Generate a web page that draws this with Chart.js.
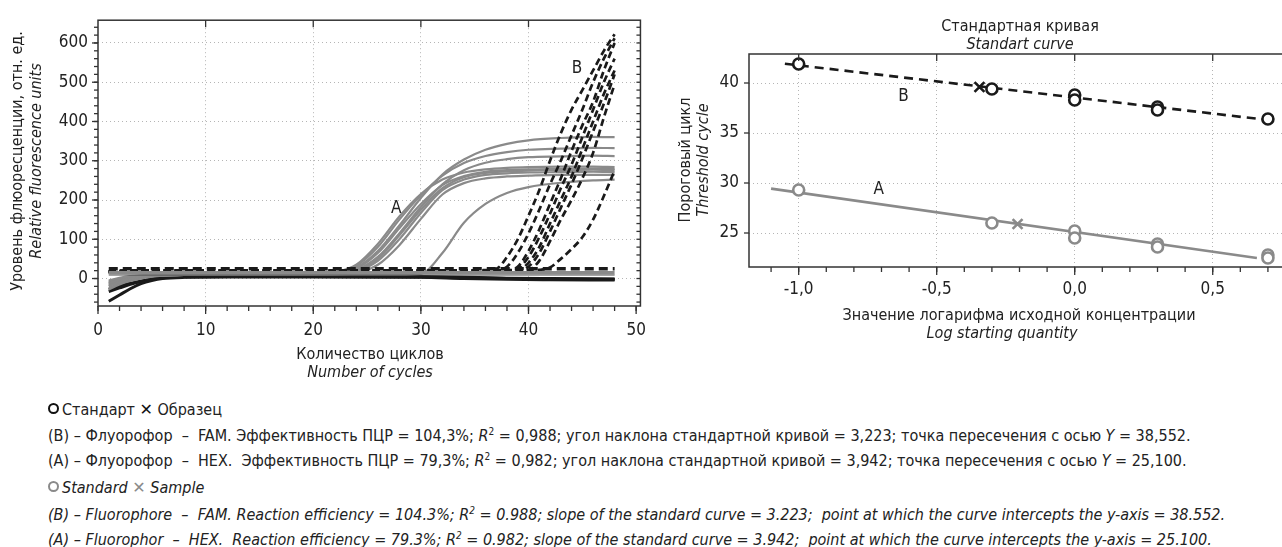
<!DOCTYPE html>
<html>
<head>
<meta charset="utf-8">
<script src="https://cdn.jsdelivr.net/npm/chart.js@4"></script>
<style>
	body {
		margin: 0;
		width: 1282px;
		height: 547px;
		overflow: hidden;
		background: #ffffff;
		position: relative;
		font-family: "Liberation Sans Narrow", "DejaVu Sans Condensed", sans-serif;
		color: #222222;
	}
	#ampBox { position: absolute; left: 0; top: 0; width: 660px; height: 390px; }
	#stdBox { position: absolute; left: 660px; top: 0; width: 640px; height: 360px; }
	.note { position: absolute; left: 48px; font-size: 16px; line-height: 20px; white-space: pre; }
	.note sup { font-size: 10px; line-height: 0; }
	.it { font-style: italic; }
	.ring { display: inline-block; width: 7px; height: 7px; border: 2.5px solid #111; border-radius: 50%; margin-right: 3px; vertical-align: 1px; }
	.ring.grey { border-color: #8a8a8a; }
	.cross { font-family: "DejaVu Sans", sans-serif; font-weight: bold; font-size: 16px; color: #111; }
	.cross.grey { color: #8a8a8a; }
</style>
</head>
<body>
<div id="ampBox"><canvas id="ampChart"></canvas></div>
<div id="stdBox"><canvas id="stdChart"></canvas></div>

<div class="note" style="top:400px"><span class="ring"></span>Стандарт <span class="cross">✕</span> Образец</div>
<div class="note" style="top:426px">(B) – Флуорофор  –  FAM. Эффективность ПЦР = 104,3%; <i>R</i><sup>2</sup> = 0,988; угол наклона стандартной кривой = 3,223; точка пересечения с осью <i>Y</i> = 38,552.</div>
<div class="note" style="top:451px">(A) – Флуорофор  –  HEX.  Эффективность ПЦР = 79,3%; <i>R</i><sup>2</sup> = 0,982; угол наклона стандартной кривой = 3,942; точка пересечения с осью <i>Y</i> = 25,100.</div>
<div class="note it" style="top:478px"><span class="ring grey"></span>Standard <span class="cross grey">✕</span> Sample</div>
<div class="note it" style="top:505px">(B) – Fluorophore  –  FAM. Reaction efficiency = 104.3%; R<sup>2</sup> = 0.988; slope of the standard curve = 3.223;  point at which the curve intercepts the y-axis = 38.552.</div>
<div class="note it" style="top:530px">(A) – Fluorophor  –  HEX.  Reaction efficiency = 79.3%; R<sup>2</sup> = 0.982; slope of the standard curve = 3.942;  point at which the curve intercepts the y-axis = 25.100.</div>

<script>
"use strict";

// amplification curves, HEX (A), read at these cycles
var cyclesA = [1, 2, 3, 5, 8, 12, 16, 20, 22, 24, 26, 28, 30, 32, 34, 36, 38, 40, 43, 46, 48];
var hexCurves = [
	[-5, 2, 6, 9, 10, 10, 10, 11, 14, 28, 70, 135, 205, 265, 303, 328, 343, 352, 358, 361, 360],
	[-12, -2, 4, 8, 10, 10, 11, 11, 15, 32, 80, 150, 212, 262, 294, 312, 322, 328, 331, 333, 332],
	[-20, -8, 0, 7, 9, 10, 10, 10, 12, 22, 55, 115, 182, 240, 276, 295, 304, 309, 311, 313, 312],
	[-8, 0, 5, 9, 10, 11, 11, 11, 16, 35, 88, 158, 215, 252, 270, 278, 282, 284, 285, 285, 284],
	[-25, -12, -4, 6, 9, 10, 10, 10, 12, 25, 65, 128, 190, 238, 261, 272, 276, 278, 279, 280, 279],
	[-15, -5, 2, 8, 10, 10, 10, 10, 11, 18, 45, 100, 167, 225, 252, 264, 268, 270, 271, 272, 271],
	[-28, -15, -6, 5, 9, 10, 10, 10, 10, 14, 35, 85, 152, 214, 243, 255, 260, 262, 264, 264, 264],
	[-10, -1, 4, 8, 10, 10, 11, 11, 13, 20, 50, 110, 175, 230, 258, 269, 273, 275, 276, 277, 276],
	[-18, -6, 1, 7, 9, 10, 10, 10, 10, 10, 10, 10, 12, 65, 142, 190, 218, 233, 244, 250, 252]
];

// amplification curves, FAM (B)
var cyclesB = [1, 3, 5, 10, 20, 30, 35, 37, 38, 39, 40, 41, 42, 43, 44, 45, 46, 47, 48];
var famCurves = [
	[18, 20, 20, 20, 20, 20, 21, 25, 55, 100, 160, 225, 300, 370, 430, 480, 530, 580, 622],
	[18, 20, 20, 20, 20, 20, 20, 21, 30, 65, 115, 175, 240, 300, 365, 430, 500, 560, 612],
	[16, 19, 20, 20, 20, 20, 20, 20, 21, 30, 70, 125, 190, 255, 325, 390, 450, 530, 600],
	[17, 19, 20, 20, 20, 20, 20, 20, 20, 25, 55, 105, 165, 230, 290, 360, 430, 500, 560],
	[15, 18, 20, 20, 20, 20, 20, 20, 20, 21, 40, 80, 140, 200, 260, 330, 400, 470, 530],
	[16, 19, 20, 20, 20, 20, 20, 20, 20, 20, 30, 65, 120, 180, 240, 305, 375, 445, 520],
	[17, 19, 20, 20, 20, 20, 20, 20, 20, 20, 22, 45, 95, 150, 200, 255, 320, 410, 495],
	[18, 20, 20, 20, 20, 20, 20, 20, 20, 20, 20, 22, 28, 50, 75, 105, 150, 210, 275]
];

// flat black runs (no amplification)
var cyclesNeg = [1, 2, 3, 4, 5, 6, 8, 12, 20, 30, 34, 38, 42, 48];
var negCurves = [
	[-58, -42, -26, -13, -5, 0, 3, 4, 4, 3, 0, -2, -3, -4],
	[-33, -24, -15, -8, -2, 2, 4, 5, 5, 4, 2, 0, -1, -2],
	[-28, -20, -12, -6, -1, 3, 5, 6, 6, 5, 3, 1, 0, -1]
];

var thresholdRange = [1, 48];
var thresholdB = 25;
var thresholdA = 15;
var thresholdLow = 9;

// standard curve
var stdLogB = [-1, -0.3, 0, 0, 0.3, 0.3, 0.7];
var stdCtB = [41.9, 39.4, 38.8, 38.3, 37.6, 37.3, 36.4];
var stdLogA = [-1, -0.3, 0, 0, 0.3, 0.3, 0.7, 0.7];
var stdCtA = [29.3, 26.0, 25.2, 24.5, 23.9, 23.6, 22.8, 22.5];
var sampleLogB = [-0.345];
var sampleCtB = [39.6];
var sampleLogA = [-0.207];
var sampleCtA = [25.9];
var fitLogB = [-1.05, 0.7];
var fitCtB = [41.93, 36.3];
var fitLogA = [-1.1, 0.66];
var fitCtA = [29.44, 22.5];

var GREY = "#8a8a8a";
var INK = "#1a1a1a";
var FONT = "'Liberation Sans Narrow', 'DejaVu Sans Condensed', sans-serif";


function toPoints(xs, ys) {
	return xs.map(function (x, i) {
		return { x: x, y: ys[i] };
	});
}

function stepValues(from, to, step) {
	var out = [];
	for (var v = from; v <= to + step / 1000; v += step) {
		out.push(Math.round(v * 1000) / 1000);
	}
	return out;
}

// frame round the plot area plus tick marks on all four sides
function makeFramePlugin(marks) {
	return {
		id: "frame",
		afterDraw: function (chart) {
			var ctx = chart.ctx;
			var a = chart.chartArea;
			ctx.save();
			ctx.strokeStyle = "#333";
			ctx.lineWidth = 1.5;
			ctx.strokeRect(a.left, a.top, a.right - a.left, a.bottom - a.top);
			ctx.lineWidth = 1.3;
			marks.forEach(function (m) {
				var scale = m.side == "bottom" || m.side == "top" ? chart.scales.x : chart.scales.y;
				m.values.forEach(function (v) {
					var p = scale.getPixelForValue(v);
					ctx.beginPath();
					if (m.side == "bottom") { ctx.moveTo(p, a.bottom); ctx.lineTo(p, a.bottom + m.len); }
					if (m.side == "top") { ctx.moveTo(p, a.top); ctx.lineTo(p, a.top + m.len); }
					if (m.side == "left") { ctx.moveTo(a.left, p); ctx.lineTo(a.left - m.len, p); }
					if (m.side == "right") { ctx.moveTo(a.right, p); ctx.lineTo(a.right - m.len, p); }
					ctx.stroke();
				});
			});
			ctx.restore();
		}
	};
}

function makeTextPlugin(items) {
	return {
		id: "texts",
		afterDraw: function (chart) {
			var ctx = chart.ctx;
			items.forEach(function (t) {
				var x = t.x;
				var y = t.y;
				if (t.dataX !== undefined) {
					x = chart.scales.x.getPixelForValue(t.dataX);
					y = chart.scales.y.getPixelForValue(t.dataY);
				}
				ctx.save();
				ctx.translate(x, y);
				if (t.rotate) ctx.rotate(t.rotate);
				ctx.font = t.font;
				ctx.fillStyle = "#222";
				ctx.textAlign = "center";
				ctx.textBaseline = "middle";
				ctx.fillText(t.text, 0, 0);
				ctx.restore();
			});
		}
	};
}

function dottedGrid(majorTest) {
	return {
		color: function (c) { return majorTest(c.tick.value) ? "#b5b5b5" : "rgba(0,0,0,0)"; },
		lineWidth: 1,
		drawTicks: false
	};
}

function renderAmplification() {
	var datasets = [];

	datasets.push({
		data: toPoints(thresholdRange, [thresholdB, thresholdB]),
		borderColor: INK, borderWidth: 3.5, borderDash: [9, 5], order: 1
	});
	datasets.push({
		data: toPoints(thresholdRange, [thresholdA, thresholdA]),
		borderColor: GREY, borderWidth: 3.5, order: 2
	});
	datasets.push({
		data: toPoints(thresholdRange, [thresholdLow, thresholdLow]),
		borderColor: "#444", borderWidth: 1, order: 2
	});

	famCurves.forEach(function (vals) {
		datasets.push({
			data: toPoints(cyclesB, vals),
			borderColor: INK, borderWidth: 2.7, borderDash: [7, 4], order: 3
		});
	});
	hexCurves.forEach(function (vals) {
		datasets.push({
			data: toPoints(cyclesA, vals),
			borderColor: GREY, borderWidth: 2.2, order: 4
		});
	});
	negCurves.forEach(function (vals) {
		datasets.push({
			data: toPoints(cyclesNeg, vals),
			borderColor: INK, borderWidth: 3, order: 5
		});
	});

	var tickFont = { family: FONT, size: 17 };

	var config = {
		type: "line",
		data: { datasets: datasets },
		options: {
			responsive: true,
			maintainAspectRatio: false,
			animation: false,
			layout: { padding: { top: 16, right: 18, left: 0, bottom: 0 } },
			elements: {
				point: { radius: 0 },
				line: { cubicInterpolationMode: "monotone", fill: false }
			},
			plugins: { legend: { display: false }, tooltip: { enabled: false } },
			scales: {
				x: {
					type: "linear", min: 0, max: 50.4,
					ticks: { stepSize: 10, includeBounds: false, font: tickFont, color: "#222", padding: 14, maxRotation: 0 },
					grid: dottedGrid(function (v) { return v > 0 && v < 50; }),
					border: { display: false, dash: [1, 3] },
					afterFit: function (s) { s.height = 84; }
				},
				y: {
					min: -70, max: 658,
					ticks: { stepSize: 100, includeBounds: false, font: tickFont, color: "#222", padding: 10 },
					grid: dottedGrid(function (v) { return true; }),
					border: { display: false, dash: [1, 3] },
					afterFit: function (s) { s.width = 98; }
				}
			}
		},
		plugins: [
			makeFramePlugin([
				{ side: "bottom", values: stepValues(0, 50, 2), len: 5 },
				{ side: "bottom", values: stepValues(0, 50, 10), len: 8 },
				{ side: "top", values: stepValues(10, 40, 10), len: 7 },
				{ side: "left", values: stepValues(-60, 640, 20), len: 4 },
				{ side: "left", values: stepValues(0, 600, 100), len: 6 },
				{ side: "right", values: stepValues(-60, 640, 20), len: 4 }
			]),
			makeTextPlugin([
				{ text: "Уровень флюоресценции, отн. ед.", x: 18, y: 161, rotate: -Math.PI / 2, font: "16px " + FONT },
				{ text: "Relative fluorescence units", x: 37, y: 161, rotate: -Math.PI / 2, font: "italic 16px " + FONT },
				{ text: "Количество циклов", x: 370, y: 355, font: "16px " + FONT },
				{ text: "Number of cycles", x: 370, y: 373, font: "italic 16px " + FONT },
				{ text: "A", dataX: 27.7, dataY: 178, font: "17px " + FONT },
				{ text: "B", dataX: 44.5, dataY: 535, font: "17px " + FONT }
			])
		]
	};

	return new Chart(document.getElementById("ampChart").getContext("2d"), config);
}

function renderStandardCurve() {
	var datasets = [
		{
			data: toPoints(sampleLogB, sampleCtB), showLine: false,
			pointStyle: "crossRot", pointRadius: 7, pointBorderWidth: 2.6,
			borderColor: INK, order: 1
		},
		{
			data: toPoints(sampleLogA, sampleCtA), showLine: false,
			pointStyle: "crossRot", pointRadius: 7, pointBorderWidth: 2.6,
			borderColor: GREY, order: 1
		},
		{
			data: toPoints(stdLogB, stdCtB), showLine: false,
			pointStyle: "circle", pointRadius: 5.5, pointBorderWidth: 2.6,
			borderColor: INK, pointBackgroundColor: "#fff", order: 2
		},
		{
			data: toPoints(stdLogA, stdCtA), showLine: false,
			pointStyle: "circle", pointRadius: 5.5, pointBorderWidth: 2.6,
			borderColor: GREY, pointBackgroundColor: "#fff", order: 2
		},
		{
			data: toPoints(fitLogB, fitCtB), pointRadius: 0,
			borderColor: INK, borderWidth: 2.6, borderDash: [9, 6], order: 3
		},
		{
			data: toPoints(fitLogA, fitCtA), pointRadius: 0,
			borderColor: GREY, borderWidth: 2.6, order: 3
		}
	];

	var tickFont = { family: FONT, size: 17 };

	var config = {
		type: "line",
		data: { datasets: datasets },
		options: {
			responsive: true,
			maintainAspectRatio: false,
			animation: false,
			layout: { padding: { top: 54, right: 10, left: 0, bottom: 0 } },
			plugins: { legend: { display: false }, tooltip: { enabled: false } },
			scales: {
				x: {
					type: "linear", min: -1.18, max: 0.78,
					ticks: {
						stepSize: 0.5, includeBounds: false, font: tickFont, color: "#222", padding: 12, maxRotation: 0,
						callback: function (v) { return v.toFixed(1).replace(".", ","); }
					},
					grid: dottedGrid(function (v) { return true; }),
					border: { display: false, dash: [1, 3] },
					afterFit: function (s) { s.height = 93; }
				},
				y: {
					min: 21.6, max: 42.9,
					ticks: { stepSize: 5, includeBounds: false, font: tickFont, color: "#222", padding: 10 },
					grid: dottedGrid(function (v) { return true; }),
					border: { display: false, dash: [1, 3] },
					afterFit: function (s) { s.width = 89; }
				}
			}
		},
		plugins: [
			makeFramePlugin([
				{ side: "bottom", values: stepValues(-1.1, 0.7, 0.1), len: 5 },
				{ side: "bottom", values: stepValues(-1, 0.5, 0.5), len: 8 },
				{ side: "top", values: stepValues(-1, 0.5, 0.5), len: 7 },
				{ side: "left", values: stepValues(25, 40, 5), len: 5 }
			]),
			makeTextPlugin([
				{ text: "Стандартная кривая", x: 360, y: 27, font: "16px " + FONT },
				{ text: "Standart curve", x: 360, y: 45, font: "italic 16px " + FONT },
				{ text: "Значение логарифма исходной концентрации", x: 359, y: 316, font: "16px " + FONT },
				{ text: "Log starting quantity", x: 342, y: 334, font: "italic 16px " + FONT },
				{ text: "Пороговый цикл", x: 26, y: 160, rotate: -Math.PI / 2, font: "16px " + FONT },
				{ text: "Threshold cycle", x: 44, y: 160, rotate: -Math.PI / 2, font: "italic 16px " + FONT },
				{ text: "B", dataX: -0.62, dataY: 38.6, font: "17px " + FONT },
				{ text: "A", dataX: -0.71, dataY: 29.3, font: "17px " + FONT }
			])
		]
	};

	return new Chart(document.getElementById("stdChart").getContext("2d"), config);
}

var ampChart = renderAmplification();
var stdChart = renderStandardCurve();
</script>
</body>
</html>
